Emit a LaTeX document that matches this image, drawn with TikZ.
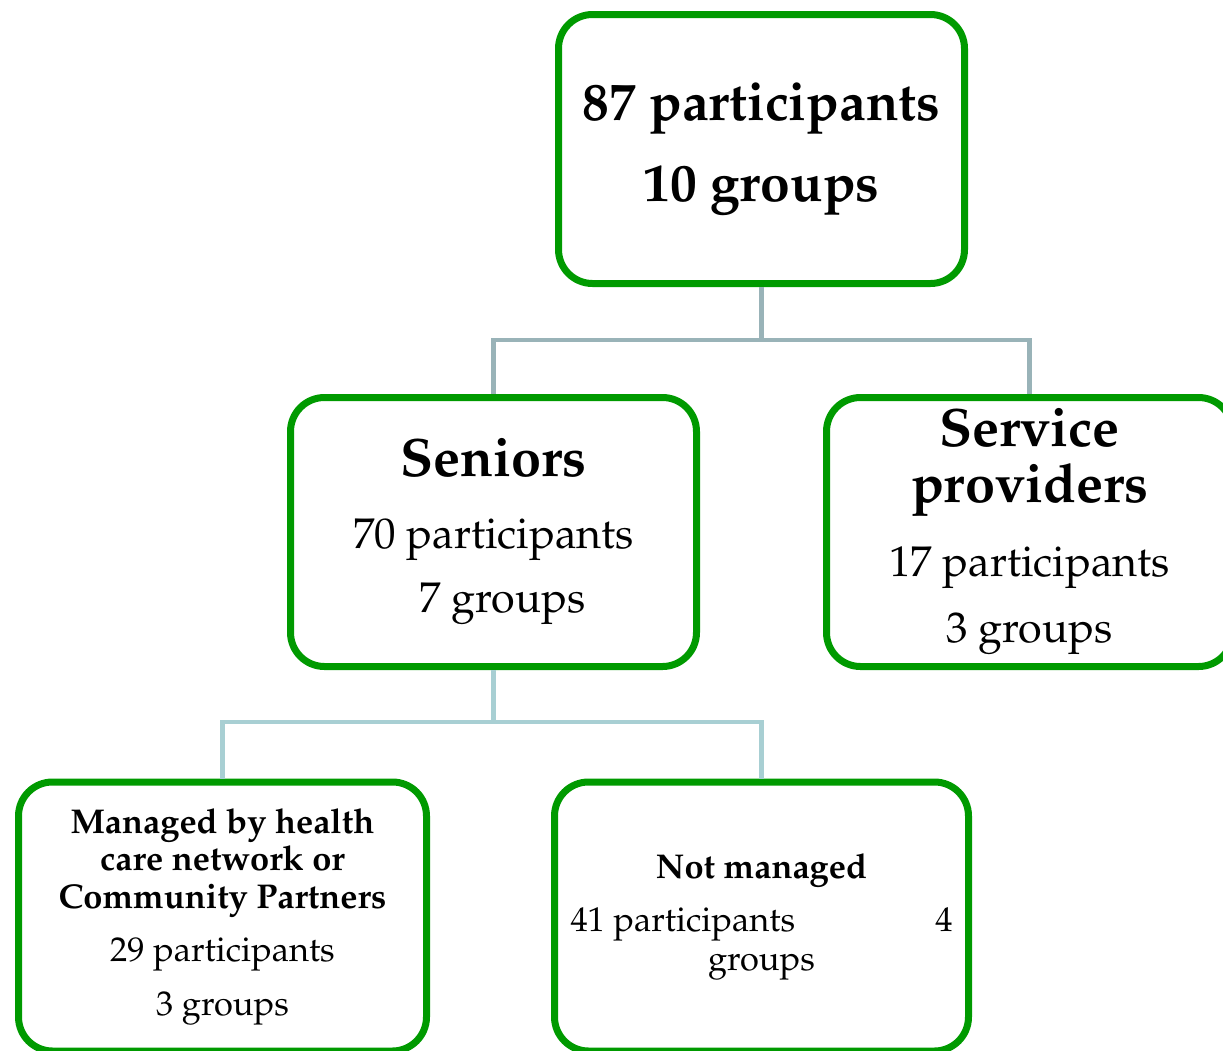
\documentclass[tikz,border=0pt]{standalone}
\usepackage[T1]{fontenc}
\usepackage{mathpazo}
\usepackage[x11names]{xcolor}
\usepackage{tikz}
\usetikzlibrary{positioning}

\definecolor{boxgreen}{RGB}{0,154,0}
\definecolor{linkgrey}{RGB}{153,179,184}
\definecolor{linkblue}{RGB}{168,207,211}

\newcommand{\headfont}{\fontsize{27}{28}\selectfont\bfseries}
\newcommand{\subheadfont}{\fontsize{17.2}{18.75}\selectfont\bfseries}

\tikzset{
	groupbox/.style={draw=boxgreen, line width=3.5pt, rounded corners=17pt, fill=white, align=center, inner sep=0pt, minimum height=134.5pt},
	link/.style={line width=2.4pt}
}

\begin{document}
\begin{tikzpicture}[x=0.5pt, y=-0.5pt]
	\useasboundingbox (0,0) rectangle (1223,1051);

	\node[groupbox, minimum width=203pt, font=\fontsize{26.7}{40.5}\selectfont\bfseries] (total) at (761.5,149) {87 participants\\10 groups};

	\node[groupbox, minimum width=203pt, font=\fontsize{21.5}{36}\selectfont] (seniors) at (493.5,532)
		{\headfont Seniors\\70 participants\\[-4pt]\hspace*{9pt}7 groups};
	\node[groupbox, minimum width=203pt, font=\fontsize{21.5}{28}\selectfont] (providers) at (1029.5,532)
		{\headfont Service\\\headfont providers\\[9pt]17 participants\\[5pt]3 groups};

	\node[groupbox, minimum width=204pt, font=\fontsize{17.2}{18.75}\selectfont] (managed) at (222.5,916.5)
		{\subheadfont Managed by health\\\subheadfont care network or\\\subheadfont Community Partners\\[7.75pt]29 participants\\[8.25pt]3 groups};
	\node[groupbox, minimum width=207pt, font=\fontsize{17.2}{19.5}\selectfont] (notmanaged) at (761.5,916.5)
		{\subheadfont Not managed\\[7pt]\makebox[191pt]{41 participants\hfill 4}\\groups};

	% tree connectors
	\coordinate (hubtop) at (761.5,340);
	\coordinate (hubsen) at (493.5,722);
	\draw[link, linkgrey] (total.south) -- (hubtop);
	\draw[link, linkgrey] (seniors.north) |- (hubtop) -| (providers.north);
	\draw[link, linkblue] (seniors.south) -- (hubsen);
	\draw[link, linkblue] (managed.north) |- (hubsen) -| (notmanaged.north);
\end{tikzpicture}
\end{document}
